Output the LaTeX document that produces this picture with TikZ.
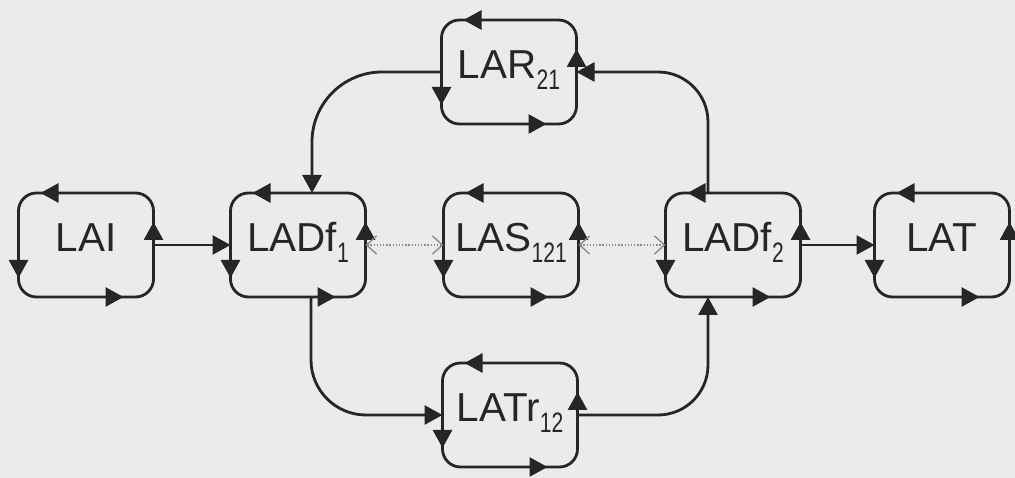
\documentclass[tikz,border=0pt]{standalone}
\usepackage{fontspec}
\setmainfont{Liberation Sans}
\usepackage{graphicx}
\usetikzlibrary{arrows.meta}

% subscript of a place name
\newcommand{\lsub}[1]{\raisebox{-0.22cm}{\scalebox{0.75}[1]{\fontsize{16}{16}\selectfont #1}}}

\tikzset{
  place/.style={draw, rounded corners=0.36cm, outer sep=0pt,
    minimum width=2.7cm, minimum height=2.08cm,
    text height=0.55cm, text depth=0.3cm,
    font=\fontsize{23}{23}\selectfont},
  flow/.style={-{Triangle[length=0.36cm,width=0.38cm]}},
  link/.style={{Straight Barb[length=0.2cm,width=0.36cm]}-{Straight Barb[length=0.2cm,width=0.36cm]},
    densely dotted, line width=0.8pt, black!45}
}

\begin{document}
\begin{tikzpicture}[line width=1.6pt, color=black!85]
  % background of the scanned page
  \fill[black!8] (0,0) rectangle (20.3,9.56);
  \useasboundingbox (0,0) rectangle (20.3,9.56);

  % the places
  \node[place] (lai)   at (1.72,4.66)  {LAI};
  \node[place] (ladf1) at (5.96,4.66)  {LADf\lsub{1}};
  \node[place] (lar)   at (10.18,8.12) {LAR\lsub{21}};
  \node[place] (las)   at (10.22,4.66) {LAS\lsub{121}};
  \node[place] (ladf2) at (14.66,4.66) {LADf\lsub{2}};
  \node[place] (lat)   at (18.84,4.66) {LAT};
  \node[place] (latr)  at (10.2,1.26)  {LATr\lsub{12}};

  % arrows running round each place
  \foreach \p in {lai,ladf1,lar,las,ladf2,lat,latr} {
    \draw[flow] ([xshift=0.9cm]\p.north west) -- ([xshift=0.44cm]\p.north west);
    \draw[flow] ([yshift=0.85cm]\p.south west) -- ([yshift=0.38cm]\p.south west);
    \draw[flow] ([xshift=-1.05cm]\p.south east) -- ([xshift=-0.6cm]\p.south east);
    \draw[flow] ([yshift=-1.05cm]\p.north east) -- ([yshift=-0.58cm]\p.north east);
  }

  % connections
  \draw[flow] (lai.east) -- (ladf1.west);
  \draw[flow] (ladf2.east) -- (lat.west);
  \draw[link] (ladf1.east) -- (las.west);
  \draw[link] (las.east) -- (ladf2.west);
  \draw[flow, rounded corners=1.4cm] (lar.west) -| ([xshift=0.28cm]ladf1.north);
  \draw[flow, rounded corners=1cm] ([xshift=-0.5cm]ladf2.north) |- (lar.east);
  \draw[flow, rounded corners=1.1cm] ([xshift=0.26cm]ladf1.south) |- (latr.west);
  \draw[flow, rounded corners=1cm] (latr.east) -| ([xshift=-0.5cm]ladf2.south);
\end{tikzpicture}
\end{document}
